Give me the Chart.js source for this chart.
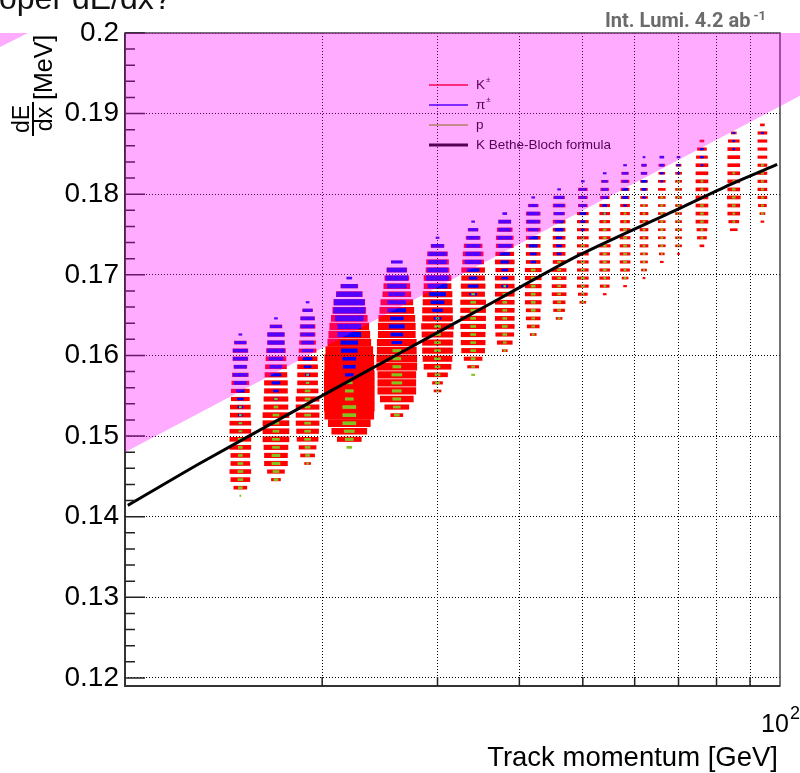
<!DOCTYPE html>
<html>
<head>
<meta charset="utf-8">
<style>
  html, body { margin: 0; padding: 0; background: #fff; }
  #wrap { position: relative; width: 800px; height: 773px; }
</style>
<script src="https://cdn.jsdelivr.net/npm/chart.js@4.4.1/dist/chart.umd.min.js"></script>
</head>
<body>
<div id="wrap"><canvas id="dedx" width="800" height="773"></canvas></div>
<script>
// Momentum column centres [GeV]
const momentumBins = [15, 17, 19, 22, 26, 30, 34, 38, 42, 46, 50, 54, 58, 62, 66, 70, 76, 85, 94];

// dE/dx row centres [MeV]
const dedxBins = [
    0.1426, 0.1436, 0.1446, 0.1456, 0.1466, 0.1476, 0.1486, 0.1496, 0.1506, 0.1516,
    0.1526, 0.1536, 0.1546, 0.1556, 0.1566, 0.1576, 0.1586, 0.1596, 0.1606, 0.1616,
    0.1626, 0.1636, 0.1646, 0.1656, 0.1666, 0.1676, 0.1686, 0.1696, 0.1706, 0.1716,
    0.1726, 0.1736, 0.1746, 0.1756, 0.1766, 0.1776, 0.1786, 0.1796, 0.1806, 0.1816,
    0.1826, 0.1836, 0.1846, 0.1856, 0.1866, 0.1876, 0.1886
];

// index in dedxBins of the lowest row of each column
const firstRow = [0, 2, 4, 6, 10, 13, 15, 18, 20, 22, 24, 25, 26, 27, 29, 30, 31, 33, 34];

// box contents per column, lowest row first (relative units)
const kaonCounts = [
    [0, 13, 19, 21, 19, 19, 21, 21, 21, 21, 20, 20, 18, 18, 17, 16, 13, 15, 15, 12, 0],
    [9, 17, 23, 23, 24, 26, 26, 26, 26, 24, 24, 23, 23, 22, 21, 20, 19, 17, 17, 12, 0],
    [6, 14, 17, 21, 22, 23, 23, 23, 23, 21, 20, 20, 20, 19, 17, 16, 15, 15, 14, 10, 0],
    [0, 24, 35, 42, 49, 50, 50, 50, 50, 50, 49, 49, 47, 43, 41, 39, 36, 33, 31, 26, 17, 0],
    [12, 24, 33, 38, 38, 38, 40, 40, 39, 39, 37, 37, 36, 34, 32, 28, 26, 24, 20, 0],
    [7, 10, 20, 27, 29, 30, 30, 31, 32, 30, 30, 29, 29, 27, 27, 23, 22, 20, 13, 0],
    [0, 11, 18, 23, 24, 24, 25, 25, 25, 25, 23, 24, 23, 23, 21, 20, 18, 14, 10, 0],
    [5, 15, 18, 19, 19, 19, 19, 19, 19, 19, 18, 19, 18, 17, 17, 15, 12, 0],
    [6, 12, 14, 14, 16, 16, 16, 16, 16, 14, 14, 14, 14, 14, 14, 14, 10, 0],
    [6, 11, 12, 14, 14, 14, 14, 12, 12, 12, 12, 12, 12, 11, 12, 11, 0],
    [6, 9, 11, 11, 11, 11, 11, 11, 11, 11, 11, 11, 9, 9, 9, 0],
    [3, 9, 10, 10, 10, 10, 11, 11, 11, 10, 10, 10, 9, 8, 7, 0],
    [3, 6, 9, 10, 10, 10, 10, 10, 9, 9, 9, 8, 8, 8, 7, 0],
    [2, 5, 7, 7, 8, 8, 8, 8, 8, 7, 7, 7, 7, 6, 5, 0],
    [3, 5, 7, 7, 7, 7, 7, 7, 7, 7, 7, 6, 6, 0],
    [2, 6, 6, 6, 6, 6, 6, 6, 6, 6, 6, 5, 0],
    [4, 9, 10, 12, 12, 12, 12, 12, 12, 12, 12, 11, 9, 4],
    [7, 10, 12, 12, 13, 12, 12, 12, 12, 12, 12, 11, 5],
    [3, 5, 8, 9, 9, 9, 9, 9, 9, 9, 9, 9, 4]
];

const pionCounts = [
    [0, 0, 0, 0, 0, 0, 0, 0, 2, 3, 4, 5, 6, 8, 12, 14, 12, 14, 14, 11, 3],
    [0, 0, 0, 0, 0, 0, 0, 0, 0, 3, 4, 5, 8, 10, 12, 14, 17, 16, 16, 11, 3],
    [0, 0, 0, 0, 0, 0, 0, 0, 0, 2, 3, 4, 7, 9, 11, 12, 13, 13, 13, 9, 3],
    [0, 0, 0, 0, 0, 0, 0, 0, 4, 8, 12, 13, 16, 17, 23, 23, 28, 31, 30, 25, 16, 5],
    [0, 0, 0, 0, 0, 0, 0, 0, 5, 10, 12, 15, 13, 18, 18, 16, 19, 22, 19, 11],
    [0, 0, 0, 0, 0, 0, 0, 0, 0, 7, 10, 13, 16, 19, 22, 20, 18, 18, 12, 3],
    [0, 0, 0, 0, 0, 0, 0, 0, 0, 0, 7, 10, 8, 12, 16, 15, 14, 12, 9, 3],
    [0, 0, 0, 0, 0, 0, 0, 0, 6, 6, 6, 8, 10, 13, 14, 12, 12, 4],
    [0, 0, 0, 0, 0, 0, 0, 0, 0, 5, 6, 8, 9, 10, 12, 12, 8, 3],
    [0, 0, 0, 0, 0, 0, 0, 0, 4, 5, 6, 8, 8, 9, 10, 9, 3],
    [0, 0, 0, 0, 0, 0, 0, 0, 2, 3, 4, 6, 7, 7, 7, 3],
    [0, 0, 0, 0, 0, 0, 0, 0, 0, 0, 3, 4, 6, 6, 5, 3],
    [0, 0, 0, 0, 0, 0, 0, 0, 0, 0, 3, 5, 5, 5, 5, 3],
    [0, 0, 0, 0, 0, 0, 0, 0, 0, 0, 3, 4, 5, 5, 4, 2],
    [0, 0, 0, 0, 0, 0, 0, 0, 0, 0, 2, 3, 4, 4],
    [0, 0, 0, 0, 0, 0, 0, 0, 0, 0, 2, 3, 3],
    [0, 0, 0, 0, 0, 0, 0, 0, 0, 0, 2, 3, 3, 0],
    [0, 0, 0, 0, 0, 0, 0, 0, 0, 0, 2, 2, 2],
    [0, 0, 0, 0, 0, 0, 0, 0, 0, 0, 0, 2, 0]
];

const protonCounts = [
    [1, 4, 5, 5, 5, 4, 4, 4, 3, 3, 2, 2],
    [4, 6, 8, 8, 7, 7, 6, 6, 6, 4, 3],
    [2, 4, 5, 6, 6, 6, 6, 5, 5, 5, 3, 2],
    [5, 8, 10, 13, 13, 13, 8, 8, 6],
    [5, 7, 8, 9, 10, 10, 8, 8, 8],
    [2, 4, 5, 5, 6, 6, 6, 6, 6, 3],
    [3, 3, 4, 5, 5, 5, 5, 5, 5, 5, 3],
    [2, 3, 4, 5, 4, 4, 4, 4, 2],
    [2, 3, 3, 4, 4, 4, 4, 4, 4],
    [2, 3, 3, 3, 3, 3, 3, 3],
    [2, 2, 3, 3, 3, 3, 3, 3, 2],
    [0, 2, 2, 3, 3, 3, 3, 3, 3, 2, 2],
    [0, 2, 2, 3, 3, 3, 3, 3, 2, 2],
    [0, 1, 2, 2, 2, 2, 2, 2, 2, 2],
    [0, 1, 2, 2, 2, 2, 2, 2, 2],
    [0, 2, 2, 2, 2, 2, 2, 2, 2, 2],
    [0, 2, 2, 3, 3, 3, 3, 2, 2],
    [0, 2, 2, 3, 3, 3, 2, 2],
    [0, 2, 2, 2, 2, 2, 2, 2]
];

// K Bethe-Bloch curve
const bbMomentum = [10.1, 13.0, 18.5, 26.3, 37.4, 49.5, 69.6, 83.9, 99.0];
const bbDedx = [0.1414, 0.1466, 0.1535, 0.1603, 0.1671, 0.1725, 0.1781, 0.1812, 0.1837];

// lower edge of the highlighted band
const shadeMomentum = [10, 100];
const shadeDedx = [0.1480, 0.1909];

// axes
const xGridTicks = [20, 30, 40, 50, 60, 70, 80, 90];
const yTicks = [0.12, 0.13, 0.14, 0.15, 0.16, 0.17, 0.18, 0.19, 0.2];

const FONT = '"Liberation Sans", Arial, sans-serif';
const COLORS = { kaon: '#ff0000', pion: '#0000ff', proton: '#86c21e' };
const DECADES_PER_UNIT = 1 / 655;

function boxThickness(c) {
    return Math.min(8, Math.round((1.2 + 0.14 * c) * 2) / 2);
}

// one dataset per box height, since bar thickness is per dataset
function boxDatasets(counts, label, color, order) {
    const groups = new Map();
    counts.forEach((col, i) => {
        const p = momentumBins[i];
        col.forEach((c, j) => {
            if (!c) return;
            const f = Math.pow(10, c * DECADES_PER_UNIT / 2);
            const t = boxThickness(c);
            if (!groups.has(t)) groups.set(t, []);
            groups.get(t).push({ y: dedxBins[firstRow[i] + j], x: [p / f, p * f] });
        });
    });
    return [...groups].map(([t, data]) => ({
        type: 'bar',
        label,
        data,
        indexAxis: 'y',
        grouped: false,
        barThickness: t,
        backgroundColor: color,
        borderWidth: 0,
        order
    }));
}

const decor = {
    id: 'decor',
    afterDatasetsDraw(chart) {
        const ctx = chart.ctx;
        const rows = [
            { y: 85, color: COLORS.kaon, width: 1.5, text: 'K', sup: '±' },
            { y: 105, color: COLORS.pion, width: 1.5, text: 'π', sup: '±' },
            { y: 125, color: COLORS.proton, width: 1.5, text: 'p', sup: '' },
            { y: 145, color: '#000', width: 3, text: 'K Bethe-Bloch formula', sup: '' }
        ];
        ctx.save();
        rows.forEach(r => {
            ctx.strokeStyle = r.color;
            ctx.lineWidth = r.width;
            ctx.beginPath();
            ctx.moveTo(429, r.y);
            ctx.lineTo(468, r.y);
            ctx.stroke();
            ctx.fillStyle = '#000';
            ctx.font = '13.5px ' + FONT;
            ctx.textBaseline = 'middle';
            ctx.textAlign = 'left';
            ctx.fillText(r.text, 476, r.y);
            if (r.sup) {
                const w = ctx.measureText(r.text).width;
                ctx.font = '8px ' + FONT;
                ctx.fillText(r.sup, 476 + w + 1, r.y - 5);
            }
        });
        ctx.restore();
    },
    afterDraw(chart) {
        const ctx = chart.ctx;
        const a = chart.chartArea;
        const xs = chart.scales.x;
        const ys = chart.scales.y;

        ctx.save();
        // frame
        ctx.strokeStyle = '#444';
        ctx.lineWidth = 1.5;
        ctx.strokeRect(a.left, a.top, a.right - a.left, a.bottom - a.top);
        ctx.lineWidth = 2;
        ctx.strokeStyle = '#333';
        ctx.beginPath();
        ctx.moveTo(a.left, a.top);
        ctx.lineTo(a.left, a.bottom);
        ctx.lineTo(a.right, a.bottom);
        ctx.stroke();

        // ticks inside the frame
        ctx.lineWidth = 1.5;
        ctx.strokeStyle = '#222';
        ctx.beginPath();
        yTicks.forEach((v, k) => {
            const y = ys.getPixelForValue(v);
            ctx.moveTo(a.left, y);
            ctx.lineTo(a.left + 20, y);
            if (k < yTicks.length - 1) {
                const step = (yTicks[k + 1] - v) / 5;
                for (let m = 1; m < 5; m++) {
                    const ym = ys.getPixelForValue(v + m * step);
                    ctx.moveTo(a.left, ym);
                    ctx.lineTo(a.left + 10, ym);
                }
            }
        });
        xGridTicks.forEach(v => {
            const x = xs.getPixelForValue(v);
            ctx.moveTo(x, a.bottom);
            ctx.lineTo(x, a.bottom - 9);
        });
        ctx.stroke();

        // semi-transparent highlight band
        const x0 = xs.getPixelForValue(shadeMomentum[0]);
        const y0 = ys.getPixelForValue(shadeDedx[0]);
        const x1 = xs.getPixelForValue(shadeMomentum[1]);
        const y1 = ys.getPixelForValue(shadeDedx[1]);
        const slope = (y1 - y0) / (x1 - x0);
        const xr = chart.width;
        ctx.beginPath();
        ctx.moveTo(a.left, y0 + slope * (a.left - x0));
        ctx.lineTo(xr, y0 + slope * (xr - x0));
        ctx.lineTo(xr, a.top);
        ctx.lineTo(a.left, a.top);
        ctx.closePath();
        ctx.moveTo(0, a.top);
        ctx.lineTo(28, a.top);
        ctx.lineTo(0, a.top + 14);
        ctx.closePath();
        ctx.fillStyle = 'rgba(255, 0, 255, 0.33)';
        ctx.fill();

        // x axis label 10^2 and title
        ctx.fillStyle = '#000';
        ctx.textBaseline = 'alphabetic';
        const xl = xs.getPixelForValue(100);
        ctx.font = '25px ' + FONT;
        const wBase = ctx.measureText('10').width;
        ctx.font = '18px ' + FONT;
        const wSup = ctx.measureText('2').width;
        const start = xl - (wBase + wSup) / 2;
        ctx.textAlign = 'left';
        ctx.font = '25px ' + FONT;
        ctx.fillText('10', start, 732);
        ctx.font = '18px ' + FONT;
        ctx.fillText('2', start + wBase + 1, 719);

        ctx.font = '27.5px ' + FONT;
        ctx.textAlign = 'right';
        ctx.fillText('Track momentum [GeV]', 778, 766);

        // y axis title: dE/dx [MeV], rotated
        ctx.save();
        ctx.translate(33, 137);
        ctx.rotate(-Math.PI / 2);
        ctx.textAlign = 'center';
        ctx.font = '23px ' + FONT;
        ctx.fillText('dE', 18, -4);
        ctx.fillText('dx', 18, 19);
        ctx.fillRect(1, -1, 34, 2);
        ctx.textAlign = 'left';
        ctx.font = '25px ' + FONT;
        ctx.fillText('[MeV]', 37, 19);
        ctx.restore();

        // cut-off slide title
        ctx.textAlign = 'left';
        ctx.font = '32px ' + FONT;
        ctx.fillStyle = '#111';
        ctx.fillText('oper dE/dx?', -1, 9);

        // luminosity label
        ctx.fillStyle = '#6b6b6b';
        ctx.font = 'bold 20px Roboto, ' + FONT;
        const lumi = 'Int. Lumi. 4.2 ab';
        ctx.fillText(lumi, 605, 27);
        const wl = ctx.measureText(lumi).width;
        ctx.font = 'bold 13px Roboto, ' + FONT;
        ctx.fillText('-1', 605 + wl + 3, 20);
        ctx.restore();
    }
};

const datasets = [
    {
        type: 'line',
        label: 'K Bethe-Bloch formula',
        data: bbMomentum.map((p, i) => ({ x: p, y: bbDedx[i] })),
        borderColor: '#000',
        borderWidth: 3,
        pointRadius: 0,
        tension: 0.25,
        fill: false,
        order: 0
    },
    ...boxDatasets(protonCounts, 'p', COLORS.proton, 1),
    ...boxDatasets(pionCounts, 'π±', COLORS.pion, 2),
    ...boxDatasets(kaonCounts, 'K±', COLORS.kaon, 3)
];

new Chart(document.getElementById('dedx'), {
    type: 'bar',
    data: { datasets },
    options: {
        responsive: false,
        animation: false,
        devicePixelRatio: 1,
        events: [],
        layout: { padding: { left: 0, right: 20, top: 33, bottom: 0 } },
        plugins: { legend: { display: false }, tooltip: { enabled: false }, title: { display: false } },
        scales: {
            x: {
                type: 'logarithmic',
                min: 10,
                max: 100,
                offset: false,
                afterBuildTicks: scale => { scale.ticks = xGridTicks.map(v => ({ value: v })); },
                afterFit: scale => { scale.height = 87; },
                ticks: { display: false },
                grid: { offset: false, drawTicks: false, color: '#000', lineWidth: 1, z: 1 },
                border: { display: false, dash: [1, 2] }
            },
            y: {
                type: 'linear',
                min: 0.119,
                max: 0.2,
                offset: false,
                afterBuildTicks: scale => { scale.ticks = yTicks.map(v => ({ value: v })); },
                afterFit: scale => { scale.width = 125; },
                ticks: {
                    autoSkip: false,
                    padding: 6,
                    color: '#000',
                    font: { family: FONT, size: 28 },
                    callback: v => String(v)
                },
                grid: { offset: false, drawTicks: false, color: '#000', lineWidth: 1, z: 1 },
                border: { display: false, dash: [1, 2] }
            }
        }
    },
    plugins: [decor]
});
</script>
</body>
</html>
